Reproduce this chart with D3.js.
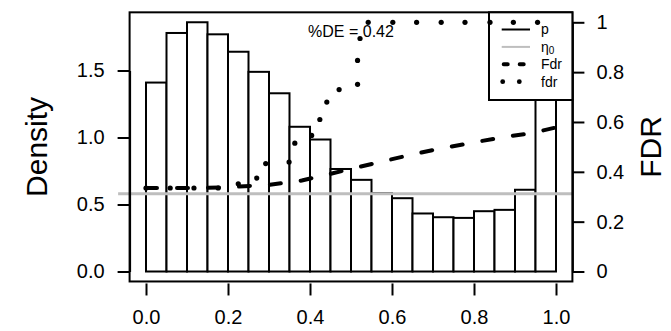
<!DOCTYPE html>
<html>
<head>
<meta charset="utf-8">
<script src="https://cdn.jsdelivr.net/npm/d3@7"></script>
<style>
  body { margin: 0; background: #fff; }
  text { font-family: "Liberation Sans", Arial, sans-serif; fill: #000; }
</style>
</head>
<body>
<div id="chart"></div>
<script>
// histogram of p-values (20 bins, width 0.05)
const binStart = [0, 0.05, 0.1, 0.15, 0.2, 0.25, 0.3, 0.35, 0.4, 0.45,
                  0.5, 0.55, 0.6, 0.65, 0.7, 0.75, 0.8, 0.85, 0.9, 0.95];
const binWidth = 0.05;
const density = [1.41, 1.78, 1.86, 1.77, 1.64, 1.49, 1.33, 1.08, 0.985, 0.765,
                 0.684, 0.585, 0.547, 0.433, 0.405, 0.40, 0.45, 0.46, 0.61, 1.32];

// proportion of non-DE
const eta0 = 0.58;
const etaSpan = [-0.068, 1.039];
const deLabel = "%DE = 0.42";

// global Fdr (dashed)
const FdrX = [0, 0.1, 0.2, 0.3, 0.38, 0.45, 0.5, 0.56, 0.64, 0.71, 0.79, 0.87, 0.94, 1.0];
const FdrY = [0.335, 0.335, 0.338, 0.348, 0.365, 0.392, 0.412, 0.435, 0.466, 0.491, 0.515, 0.539, 0.555, 0.578];

// local fdr (dotted)
const fdrX = [0, 0.059, 0.117, 0.176, 0.225, 0.270, 0.292, 0.349, 0.363, 0.404, 0.424, 0.441,
              0.471, 0.516, 0.516, 0.522, 0.542, 0.602, 0.660, 0.720, 0.778, 0.839, 0.896, 0.955];
const fdrY = [0.335, 0.335, 0.335, 0.335, 0.352, 0.375, 0.433, 0.439, 0.515, 0.546, 0.610, 0.680,
              0.730, 0.751, 0.847, 0.935, 1, 1, 1, 1, 1, 1, 1, 1];

// axes
const pTicks = [0, 0.2, 0.4, 0.6, 0.8, 1.0];
const densityTicks = [0, 0.5, 1.0, 1.5];
const fdrTicks = [0, 0.2, 0.4, 0.6, 0.8, 1];
const legendLabels = ["p", "η", "Fdr", "fdr"];

const width = 671, height = 331;

const svg = d3.select("#chart")
    .append("svg")
    .attr("width", width)
    .attr("height", height);

const x = d3.scaleLinear().domain([0, 1]).range([146, 556]);
const yL = d3.scaleLinear().domain([0, 1.5]).range([271.5, 70.5]);
const yR = d3.scaleLinear().domain([0, 1]).range([271.5, 22.3]);

// plot region (R style 4% padding)
const boxL = x(-0.04), boxR = x(1.04), boxT = yR(1.04), boxB = yR(-0.04);

// bars
svg.append("g")
    .selectAll("rect")
    .data(density)
    .join("rect")
    .attr("x", (d, i) => x(binStart[i]))
    .attr("y", d => yL(d))
    .attr("width", x(binWidth) - x(0))
    .attr("height", d => yL(0) - yL(d))
    .attr("fill", "white")
    .attr("stroke", "black")
    .attr("stroke-width", 2);

// eta0 line
svg.append("line")
    .attr("x1", x(etaSpan[0]))
    .attr("x2", x(etaSpan[1]))
    .attr("y1", yL(eta0))
    .attr("y2", yL(eta0))
    .attr("stroke", "#bebebe")
    .attr("stroke-width", 3);

// box
svg.append("rect")
    .attr("x", boxL)
    .attr("y", boxT)
    .attr("width", boxR - boxL)
    .attr("height", boxB - boxT)
    .attr("fill", "none")
    .attr("stroke", "black")
    .attr("stroke-width", 2);

// left axis
const axL = svg.append("g")
    .attr("transform", `translate(${boxL},0)`)
    .call(d3.axisLeft(yL).tickValues(densityTicks).tickFormat(d3.format(".1f"))
        .tickSize(12).tickSizeOuter(0).tickPadding(13));

// bottom axis
const axB = svg.append("g")
    .attr("transform", `translate(0,${boxB + 2})`)
    .call(d3.axisBottom(x).tickValues(pTicks).tickFormat(d3.format(".1f"))
        .tickSize(12).tickSizeOuter(0).tickPadding(14));
axB.select(".domain").remove();

// right axis
const axR = svg.append("g")
    .attr("transform", `translate(${boxR},0)`)
    .call(d3.axisRight(yR).tickValues(fdrTicks).tickFormat(d3.format("~g"))
        .tickSize(12).tickSizeOuter(0).tickPadding(12));

[axL, axB, axR].forEach(g => {
    g.selectAll("line").attr("stroke-width", 2);
    g.selectAll(".domain").attr("stroke-width", 2);
    g.selectAll("text").style("font-size", "20px").attr("fill", "black");
});

// axis labels
svg.append("text")
    .attr("transform", `translate(47,${(boxT + boxB) / 2}) rotate(-90)`)
    .attr("text-anchor", "middle")
    .style("font-size", "30px")
    .text("Density");

svg.append("text")
    .attr("transform", `translate(661,${(boxT + boxB) / 2}) rotate(-90)`)
    .attr("text-anchor", "middle")
    .style("font-size", "30px")
    .text("FDR");

// legend
const lg = svg.append("g");
lg.append("rect")
    .attr("x", 489)
    .attr("y", boxT)
    .attr("width", boxR - 489)
    .attr("height", 100 - boxT)
    .attr("fill", "white")
    .attr("stroke", "black")
    .attr("stroke-width", 2);

const rowY = i => 29.5 + 17.4 * i;
lg.append("line")
    .attr("x1", 501.7).attr("x2", 530).attr("y1", rowY(0)).attr("y2", rowY(0))
    .attr("stroke", "black").attr("stroke-width", 2);
lg.append("line")
    .attr("x1", 501.7).attr("x2", 530).attr("y1", rowY(1)).attr("y2", rowY(1))
    .attr("stroke", "#bebebe").attr("stroke-width", 2);
lg.append("line")
    .attr("x1", 503.7).attr("x2", 530).attr("y1", rowY(2)).attr("y2", rowY(2))
    .attr("stroke", "black").attr("stroke-width", 4)
    .attr("stroke-linecap", "round").attr("stroke-dasharray", "4,12");
lg.selectAll("circle")
    .data([502.7, 519.3])
    .join("circle")
    .attr("cx", d => d).attr("cy", rowY(3)).attr("r", 2.4)
    .attr("fill", "black");

legendLabels.forEach((lab, i) => {
    const t = lg.append("text")
        .attr("x", 541)
        .attr("y", rowY(i))
        .attr("dy", "0.35em")
        .style("font-size", "14px")
        .text(lab);
    if (i === 1) {
        t.append("tspan").attr("dy", "2").style("font-size", "10px").text("0");
    }
});

// Fdr dashed curve
svg.append("path")
    .datum(FdrX.map((d, i) => [d, FdrY[i]]))
    .attr("d", d3.line().x(d => x(d[0])).y(d => yR(d[1])))
    .attr("fill", "none")
    .attr("stroke", "black")
    .attr("stroke-width", 4)
    .attr("stroke-linecap", "round")
    .attr("stroke-dasharray", "11,20");

// fdr dotted curve
svg.append("g")
    .selectAll("circle")
    .data(fdrX.map((d, i) => [d, fdrY[i]]))
    .join("circle")
    .attr("cx", d => x(d[0]))
    .attr("cy", d => yR(d[1]))
    .attr("r", 2.6)
    .attr("fill", "black");

// %DE annotation
svg.append("text")
    .attr("x", (boxL + boxR) / 2)
    .attr("y", 37)
    .attr("text-anchor", "middle")
    .style("font-size", "16px")
    .text(deLabel);
</script>
</body>
</html>
